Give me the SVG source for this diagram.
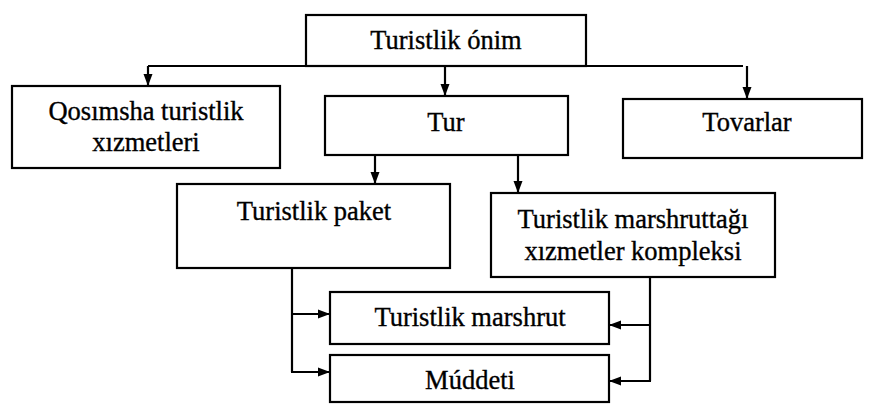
<svg xmlns="http://www.w3.org/2000/svg" width="869" height="410" viewBox="0 0 869 410">
  <defs>
    <marker id="arr" viewBox="0 0 12 10" refX="12" refY="5" markerWidth="12" markerHeight="10" markerUnits="userSpaceOnUse" orient="auto">
      <path d="M0,0.5 L12,5 L0,9.5 Z" fill="#000"/>
    </marker>
    <style>
      .box { fill: #fff; stroke: #000; stroke-width: 2.2; }
      .lbl { font-family: "Liberation Serif", "Times New Roman", serif; font-size: 26.5px; fill: #000; text-anchor: middle; stroke: #000; stroke-width: 0.35; }
      .ln { fill: none; stroke: #000; stroke-width: 2.2; }
      .ar { fill: none; stroke: #000; stroke-width: 2.2; marker-end: url(#arr); }
    </style>
  </defs>
  <rect width="869" height="410" fill="#fff"/>

  <g id="connectors">
    <line class="ln" x1="148" y1="66" x2="743" y2="66"/>
    <line class="ar" x1="148" y1="66" x2="148" y2="86"/>
    <line class="ar" x1="445" y1="66" x2="445" y2="96"/>
    <line class="ar" x1="747" y1="66" x2="747" y2="99"/>
    <line class="ar" x1="375" y1="155" x2="375" y2="184"/>
    <line class="ar" x1="518" y1="155" x2="518" y2="193"/>
    <polyline class="ln" points="292,268 292,372"/>
    <line class="ar" x1="292" y1="314" x2="330" y2="314"/>
    <line class="ar" x1="291" y1="372" x2="330" y2="372"/>
    <polyline class="ln" points="650,277 650,381"/>
    <line class="ar" x1="650" y1="325" x2="609" y2="325"/>
    <line class="ar" x1="651" y1="381" x2="609" y2="381"/>
  </g>

  <g id="n-onim">
    <rect class="box" x="306" y="15" width="280" height="51"/>
    <text class="lbl" x="446" y="49">Turistlik ónim</text>
  </g>
  <g id="n-qosimsha">
    <rect class="box" x="12" y="86" width="268" height="82"/>
    <text class="lbl" x="146" y="120">Qosımsha turistlik</text>
    <text class="lbl" x="146" y="151">xızmetleri</text>
  </g>
  <g id="n-tur">
    <rect class="box" x="325" y="96" width="243" height="59"/>
    <text class="lbl" x="446" y="131">Tur</text>
  </g>
  <g id="n-tovarlar">
    <rect class="box" x="623" y="99" width="239" height="59"/>
    <text class="lbl" x="747" y="131">Tovarlar</text>
  </g>
  <g id="n-paket">
    <rect class="box" x="177" y="184" width="273" height="84"/>
    <text class="lbl" x="314" y="220">Turistlik paket</text>
  </g>
  <g id="n-kompleks">
    <rect class="box" x="491" y="193" width="284" height="84"/>
    <text class="lbl" x="633" y="228">Turistlik marshruttağı</text>
    <text class="lbl" x="633" y="260">xızmetler kompleksi</text>
  </g>
  <g id="n-marshrut">
    <rect class="box" x="330" y="292" width="279" height="52"/>
    <text class="lbl" x="470" y="326">Turistlik marshrut</text>
  </g>
  <g id="n-muddeti">
    <rect class="box" x="330" y="355" width="279" height="47"/>
    <text class="lbl" x="470" y="389">Múddeti</text>
  </g>
</svg>
